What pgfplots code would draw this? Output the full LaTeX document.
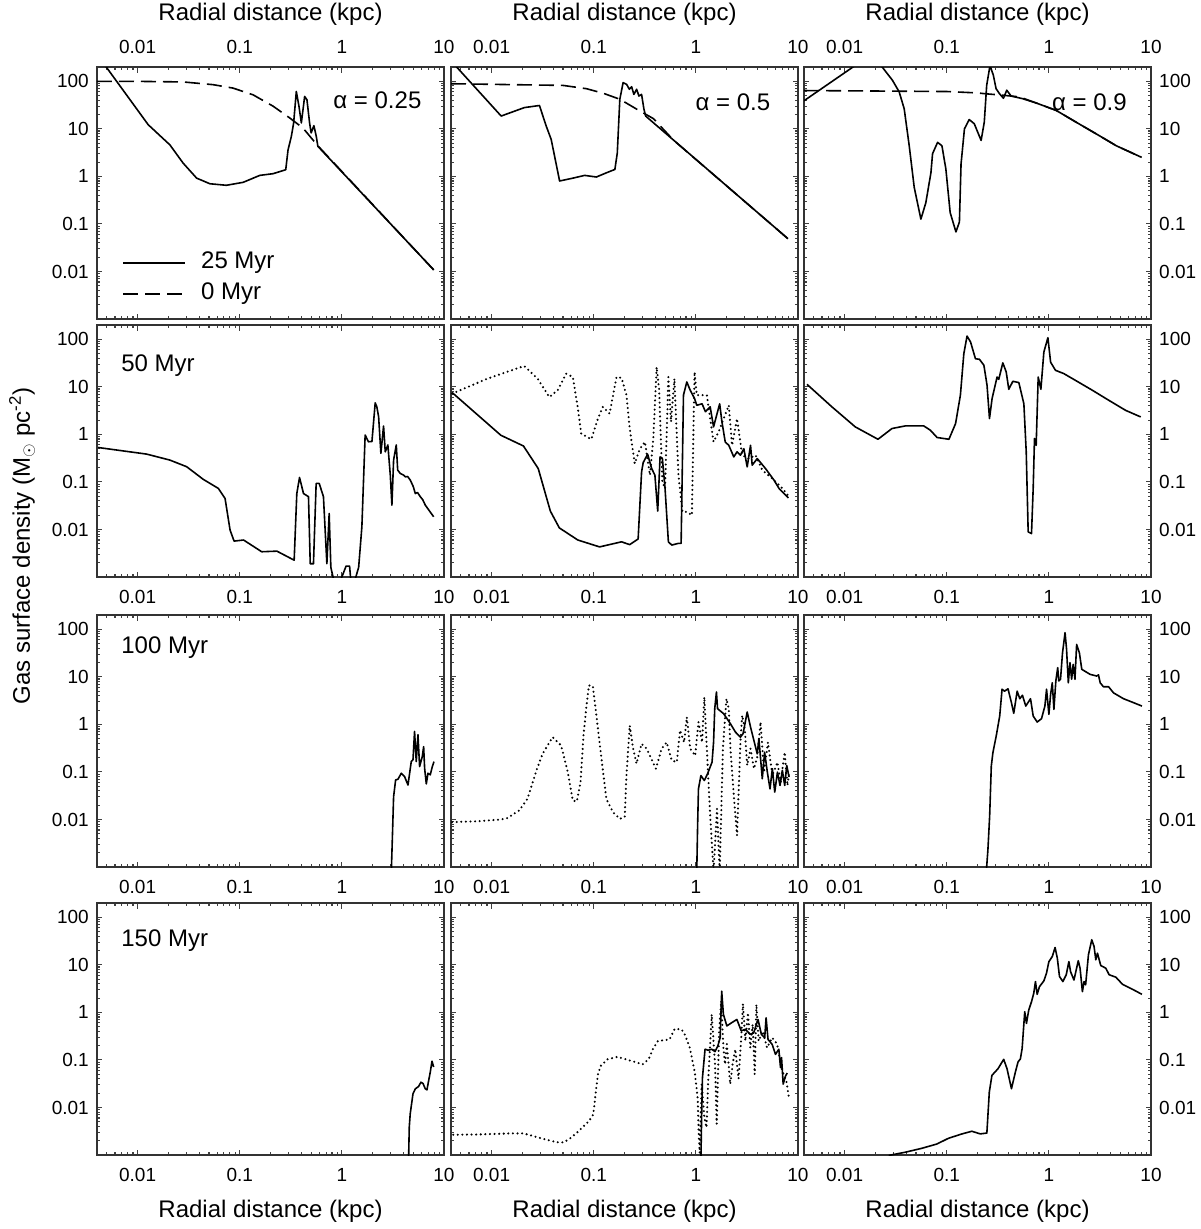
\documentclass[border=0pt]{standalone}
\usepackage{pgfplots}
\pgfplotsset{compat=1.18}
\usepackage{fontspec}
\setmainfont{Liberation Sans}
\newcommand\tfont{\fontsize{19}{19}\selectfont}
\newcommand\lfont{\fontsize{24}{26}\selectfont}
\tikzset{
  sol/.style={black, line width=1.6pt, line join=round},
  dsh/.style={black, line width=1.6pt, dash pattern=on 15pt off 7pt},
  dtt/.style={black, line width=2.3pt, line cap=round, dash pattern=on 0pt off 4.6pt},
}
\pgfplotsset{every axis/.append style={
    scale only axis, width=347pt, height=252pt,
    xmin=0.004, xmax=10, ymin=0.001, ymax=200,
    xtick={0.01,0.1,1,10},
    ytick={0.01,0.1,1,10,100},
    minor xtick={0.005,0.006,0.007,0.008,0.009,0.02,0.03,0.04,0.05,0.06,0.07,0.08,0.09,0.2,0.3,0.4,0.5,0.6,0.7,0.8,0.9,2,3,4,5,6,7,8,9},
    minor ytick={0.002,0.003,0.004,0.005,0.006,0.007,0.008,0.009,0.02,0.03,0.04,0.05,0.06,0.07,0.08,0.09,0.2,0.3,0.4,0.5,0.6,0.7,0.8,0.9,2,3,4,5,6,7,8,9,20,30,40,50,60,70,80,90},
    tick align=inside, xtick pos=both, ytick pos=both,
    major tick length=5.5pt, minor tick length=3pt,
    tick style={draw=black!75, line width=1.1pt},
    axis line style={black!80, line width=1.5pt},
    tick label style={font=\tfont, inner sep=0pt},
    xticklabel shift=13pt, yticklabel shift=8pt,
    anchor=north west,
}}
\begin{document}
\begin{tikzpicture}
\useasboundingbox (0pt,0pt) rectangle (1200pt,-1229pt);
% ---------------- Row 1 ----------------
\begin{loglogaxis}[at={(97pt,-67pt)}, xticklabel pos=right, xticklabels={0.01,0.1,1,10}, yticklabels={0.01,0.1,1,10,100}]
\addplot[sol] coordinates {(0.004,370)(0.0127,12.2)(0.0207,4.6)(0.0279,1.9)(0.0378,0.92)(0.051,0.70)(0.074,0.65)(0.108,0.75)(0.157,1.05)(0.212,1.14)(0.282,1.38)(0.297,3.6)(0.32,6.9)(0.337,13.3)(0.358,61)(0.38,30)(0.401,13.3)(0.432,48)(0.455,41)(0.483,13.3)(0.50,8.2)(0.532,11.7)(0.561,7.0)(0.582,4.3)(7.93,0.0108)};
\addplot[dsh] coordinates {(0.004,100)(0.0091,100)(0.0279,97)(0.0548,85)(0.086,72)(0.135,52)(0.212,30)(0.308,17)(0.416,10.4)(0.582,4.4)(7.93,0.0108)};
\draw[sol] (axis description cs:0.075,0.222) -- (axis description cs:0.254,0.222);
\draw[dsh] (axis description cs:0.075,0.099) -- (axis description cs:0.254,0.099);
\node[font=\lfont, anchor=west] at (axis description cs:0.29,0.222) {25 Myr};
\node[font=\lfont, anchor=west] at (axis description cs:0.29,0.099) {0 Myr};
\node[font=\lfont, anchor=east] at (axis description cs:0.945,0.87) {α = 0.25};
\end{loglogaxis}
\begin{loglogaxis}[at={(451pt,-67pt)}, xticklabel pos=right, xticklabels={0.01,0.1,1,10}, yticklabels={}]
\addplot[sol] coordinates {(0.004,270)(0.0124,18.6)(0.0209,28)(0.0294,31)(0.0342,11.5)(0.0383,6.0)(0.0463,0.80)(0.0627,0.92)(0.0815,1.05)(0.106,0.97)(0.133,1.19)(0.161,1.40)(0.170,3.1)(0.180,42)(0.194,94)(0.210,86)(0.223,68)(0.235,77)(0.247,53)(0.263,68)(0.277,49)(0.294,53)(0.310,26)(0.322,18.6)(7.98,0.0488)};
\addplot[dsh] coordinates {(0.004,89)(0.05,82)(0.0847,70)(0.124,56)(0.180,42)(0.263,26)(0.384,16.4)(0.603,5.8)(7.98,0.0488)};
\node[font=\lfont, anchor=east] at (axis description cs:0.93,0.86) {α = 0.5};
\end{loglogaxis}
\begin{loglogaxis}[at={(804pt,-67pt)}, xticklabel pos=right, yticklabel pos=right, xticklabels={0.01,0.1,1,10}, yticklabels={0.01,0.1,1,10,100}]
\addplot[sol] coordinates {(0.004,39)(0.0128,218)(0.0168,330)(0.0226,218)(0.0294,105)(0.0342,60)(0.0383,26.5)(0.0429,4.4)(0.048,0.59)(0.0558,0.126)(0.0624,0.28)(0.070,1.2)(0.0726,3.0)(0.0813,5.2)(0.0897,4.4)(0.098,1.43)(0.108,0.173)(0.123,0.068)(0.133,0.110)(0.138,1.82)(0.149,10)(0.166,15.7)(0.186,12.8)(0.217,5.7)(0.233,13.8)(0.246,82)(0.265,215)(0.286,134)(0.304,70)(0.328,55)(0.359,44)(0.387,65)(0.427,49)(0.556,43)(0.751,35)(1.18,24.4)(1.85,13.8)(2.92,7.8)(4.58,4.4)(8.07,2.52)};
\addplot[dsh] coordinates {(0.004,64)(0.1,61)(0.2,57)(0.233,55)(0.353,51)(0.515,47)(0.751,35)(1.18,24.4)(1.85,13.8)(2.92,7.8)(4.58,4.4)(8.07,2.52)};
\node[font=\lfont, anchor=east] at (axis description cs:0.94,0.86) {α = 0.9};
\end{loglogaxis}
% ---------------- Row 2 ----------------
\begin{loglogaxis}[at={(97pt,-325pt)}, xticklabels={0.01,0.1,1,10}, yticklabels={0.01,0.1,1,10,100}]
\addplot[sol] coordinates {(0.0041,0.53)(0.01225,0.385)(0.0207,0.288)(0.0302,0.209)(0.044,0.113)(0.0618,0.073)(0.0718,0.045)(0.0804,0.0097)(0.088,0.0057)(0.109,0.006)(0.164,0.0034)(0.231,0.0035)(0.341,0.00226)(0.362,0.057)(0.385,0.124)(0.421,0.057)(0.471,0.049)(0.49,0.0019)(0.527,0.0019)(0.56,0.093)(0.60,0.093)(0.66,0.049)(0.713,0.0019)(0.751,0.0217)(0.78,0.0016)(0.828,0.0009)(0.98,0.0009)(1.10,0.0017)(1.19,0.0017)(1.22,0.0009)(1.35,0.0009)(1.46,0.0016)(1.57,0.0114)(1.69,0.97)(1.82,0.70)(1.97,0.71)(2.12,4.6)(2.2,3.8)(2.29,2.35)(2.41,0.40)(2.56,1.5)(2.66,0.43)(2.82,0.6)(2.98,0.139)(3.09,0.0325)(3.21,0.288)(3.41,0.6)(3.52,0.178)(3.73,0.151)(4.0,0.14)(4.18,0.128)(4.4,0.13)(4.68,0.109)(5.0,0.08)(5.24,0.057)(5.5,0.06)(5.86,0.049)(6.2,0.042)(6.56,0.0325)(7.92,0.0185)};
\node[font=\lfont, anchor=west] at (axis description cs:0.06,0.84) {50 Myr};
\end{loglogaxis}
\begin{loglogaxis}[at={(451pt,-325pt)}, xticklabels={0.01,0.1,1,10}, yticklabels={}]
\addplot[dtt] coordinates {(0.0041,7.2)(0.0091,14.9)(0.0208,27.5)(0.0282,14.9)(0.0367,6.1)(0.0444,8.5)(0.0536,19)(0.0624,16.1)(0.070,3.5)(0.0753,1.04)(0.0945,0.79)(0.11,2.15)(0.123,3.8)(0.143,2.74)(0.167,16.1)(0.187,15.4)(0.209,6.7)(0.225,1.33)(0.252,0.244)(0.283,0.50)(0.317,0.695)(0.355,0.139)(0.383,0.82)(0.413,26)(0.436,9.2)(0.47,0.100)(0.499,0.073)(0.538,16.1)(0.571,1.83)(0.616,14.9)(0.675,0.139)(0.739,0.0235)(0.815,0.0235)(0.914,0.020)(0.97,20.6)(1.02,6.7)(1.28,6.7)(1.38,2.15)(1.49,0.695)(1.67,1.13)(2.1,4.1)(2.26,0.59)(2.53,2.15)(2.84,0.365)(3.3,0.31)(3.84,0.365)(4.47,0.177)(5.6,0.118)(7.04,0.073)(8.18,0.0487)};
\addplot[sol] coordinates {(0.0041,7.6)(0.0123,0.96)(0.0205,0.57)(0.0286,0.191)(0.0376,0.0243)(0.046,0.0108)(0.0698,0.006)(0.114,0.0043)(0.187,0.0055)(0.225,0.0048)(0.272,0.0063)(0.294,0.163)(0.305,0.256)(0.337,0.383)(0.369,0.191)(0.397,0.139)(0.423,0.0243)(0.446,0.336)(0.47,0.31)(0.499,0.073)(0.538,0.0055)(0.58,0.0047)(0.675,0.0051)(0.717,0.0051)(0.756,6.7)(0.815,12.7)(0.88,8.5)(0.97,5.7)(1.02,4.1)(1.15,4.4)(1.24,3.0)(1.38,3.8)(1.49,1.44)(1.71,4.4)(1.80,1.83)(1.94,0.69)(2.1,0.59)(2.35,0.336)(2.53,0.43)(2.73,0.365)(2.95,0.50)(3.18,0.207)(3.43,0.59)(3.56,0.225)(3.99,0.31)(4.82,0.19)(5.82,0.109)(6.52,0.073)(8.05,0.046)};
\end{loglogaxis}
\begin{loglogaxis}[at={(804pt,-325pt)}, yticklabel pos=right, xticklabels={0.01,0.1,1,10}, yticklabels={0.01,0.1,1,10,100}]
\addplot[sol] coordinates {(0.00428,11.3)(0.0075,3.8)(0.0127,1.44)(0.0212,0.79)(0.0291,1.33)(0.0394,1.51)(0.0595,1.51)(0.0692,1.22)(0.0804,0.86)(0.105,0.79)(0.122,1.69)(0.136,6.7)(0.147,50)(0.158,117)(0.171,88)(0.191,39)(0.209,38)(0.231,28.5)(0.248,10.8)(0.262,2.15)(0.278,5.7)(0.311,16.1)(0.323,14.4)(0.354,32)(0.382,20.6)(0.405,8.9)(0.444,13.1)(0.508,12.3)(0.569,4.4)(0.6,0.43)(0.627,0.0089)(0.676,0.0082)(0.702,0.073)(0.723,0.82)(0.751,0.59)(0.786,16.1)(0.835,8.9)(0.893,54)(0.978,108)(1.04,33)(1.16,22.3)(1.40,19)(1.82,13.7)(2.66,8.5)(3.87,5.2)(5.65,3.2)(7.93,2.33)};
\end{loglogaxis}
% ---------------- Row 3 ----------------
\begin{loglogaxis}[at={(97pt,-615pt)}, xticklabels={0.01,0.1,1,10}, yticklabels={0.01,0.1,1,10,100}]
\addplot[sol] coordinates {(3.05,0.0008)(3.11,0.0031)(3.21,0.030)(3.36,0.068)(3.54,0.070)(3.82,0.094)(4.11,0.080)(4.44,0.053)(4.78,0.165)(4.97,0.18)(5.15,0.71)(5.35,0.165)(5.56,0.605)(5.77,0.13)(6.13,0.21)(6.32,0.34)(6.46,0.12)(6.71,0.056)(6.97,0.094)(7.34,0.087)(7.69,0.13)(7.98,0.165)};
\node[font=\lfont, anchor=west] at (axis description cs:0.06,0.87) {100 Myr};
\end{loglogaxis}
\begin{loglogaxis}[at={(451pt,-615pt)}, xticklabels={0.01,0.1,1,10}, yticklabels={}]
\addplot[dtt] coordinates {(0.0041,0.0088)(0.0075,0.0092)(0.0123,0.01)(0.0143,0.0107)(0.0186,0.0155)(0.0224,0.027)(0.0271,0.099)(0.0315,0.24)(0.0396,0.54)(0.0479,0.36)(0.0557,0.099)(0.0624,0.025)(0.0683,0.024)(0.0742,0.061)(0.0794,0.59)(0.0843,2.14)(0.0896,6.6)(0.098,6.4)(0.107,1.32)(0.119,0.189)(0.133,0.027)(0.154,0.0143)(0.18,0.0103)(0.201,0.0114)(0.209,0.084)(0.225,0.95)(0.243,0.31)(0.262,0.149)(0.294,0.39)(0.329,0.31)(0.406,0.117)(0.462,0.31)(0.518,0.42)(0.58,0.175)(0.65,0.16)(0.70,0.75)(0.767,0.42)(0.815,1.43)(0.88,0.31)(0.985,0.22)(1.06,1.12)(1.15,0.42)(1.21,3.76)(1.28,0.31)(1.38,0.0121)(1.49,0.0008)(1.61,0.0168)(1.71,0.0008)(1.84,0.31)(1.99,3.47)(2.1,2.14)(2.18,0.31)(2.35,0.032)(2.53,0.0046)(2.73,0.42)(2.84,1.55)(3.01,0.81)(3.18,0.137)(3.43,0.31)(3.70,0.117)(3.99,0.205)(4.30,1.12)(4.64,0.099)(5.08,0.42)(5.61,0.084)(6.29,0.16)(6.77,0.061)(7.41,0.26)(7.89,0.052)(8.18,0.099)};
\addplot[sol] coordinates {(1.02,0.0008)(1.04,0.0075)(1.06,0.044)(1.12,0.084)(1.21,0.066)(1.30,0.091)(1.44,0.161)(1.49,0.42)(1.53,2.14)(1.59,4.8)(1.63,2.14)(1.87,1.68)(2.18,1.03)(2.44,0.69)(2.73,0.54)(2.90,0.64)(3.18,1.82)(3.43,0.88)(3.70,0.46)(3.99,0.24)(4.14,0.50)(4.47,0.072)(4.71,0.26)(5.01,0.099)(5.32,0.044)(5.61,0.117)(5.92,0.0376)(6.29,0.099)(6.67,0.052)(7.03,0.108)(7.41,0.052)(7.76,0.137)(8.18,0.078)};
\end{loglogaxis}
\begin{loglogaxis}[at={(804pt,-615pt)}, yticklabel pos=right, xticklabels={0.01,0.1,1,10}, yticklabels={0.01,0.1,1,10,100}]
\addplot[sol] coordinates {(0.244,0.0008)(0.253,0.00233)(0.263,0.0117)(0.273,0.133)(0.283,0.254)(0.305,0.57)(0.33,1.5)(0.348,5.5)(0.368,5.0)(0.398,5.6)(0.43,2.86)(0.453,1.71)(0.489,5.0)(0.519,3.47)(0.551,4.1)(0.594,2.43)(0.661,3.47)(0.702,1.5)(0.768,1.12)(0.847,1.32)(0.914,2.43)(0.949,5.5)(1.0,1.63)(1.04,4.3)(1.08,7.5)(1.12,2.07)(1.17,8.2)(1.22,15.6)(1.25,8.2)(1.30,8.9)(1.36,32)(1.44,85)(1.49,38)(1.55,7.5)(1.61,19.9)(1.67,8.9)(1.73,18.3)(1.80,8.9)(1.87,48)(1.99,32)(2.1,14.4)(2.53,11.3)(2.94,10.4)(3.06,11)(3.18,7.5)(3.42,6.2)(3.84,6.2)(4.30,4.6)(5.38,3.47)(6.76,2.86)(8.15,2.43)};
\end{loglogaxis}
% ---------------- Row 4 ----------------
\begin{loglogaxis}[at={(97pt,-903pt)}, xticklabels={0.01,0.1,1,10}, yticklabels={0.01,0.1,1,10,100}]
\addplot[sol] coordinates {(4.5,0.0008)(4.57,0.00385)(4.67,0.0074)(4.97,0.0194)(5.24,0.0247)(5.64,0.0277)(5.95,0.034)(6.23,0.032)(6.56,0.0247)(6.81,0.0235)(7.08,0.037)(7.34,0.0555)(7.63,0.094)(7.92,0.071)};
\node[font=\lfont, anchor=west] at (axis description cs:0.06,0.85) {150 Myr};
\end{loglogaxis}
\begin{loglogaxis}[at={(451pt,-903pt)}, xticklabels={0.01,0.1,1,10}, yticklabels={}]
\addplot[dtt] coordinates {(0.0042,0.00267)(0.0071,0.0027)(0.0152,0.00285)(0.0205,0.00285)(0.0248,0.00255)(0.0324,0.00217)(0.0438,0.00185)(0.051,0.00185)(0.0593,0.00228)(0.069,0.003)(0.09,0.0052)(0.099,0.0072)(0.105,0.0224)(0.110,0.050)(0.117,0.075)(0.136,0.103)(0.171,0.116)(0.223,0.098)(0.302,0.081)(0.344,0.103)(0.379,0.168)(0.425,0.25)(0.553,0.27)(0.62,0.45)(0.723,0.44)(0.778,0.345)(0.873,0.18)(0.977,0.054)(1.04,0.0162)(1.07,0.00235)(1.09,0.0011)(1.14,0.031)(1.21,0.0062)(1.27,0.0038)(1.32,0.036)(1.43,0.91)(1.48,0.295)(1.54,0.081)(1.60,0.0045)(1.69,0.41)(1.77,1.73)(1.86,0.18)(1.93,0.081)(2.01,0.215)(2.17,0.031)(2.29,0.081)(2.43,0.168)(2.62,0.04)(2.78,0.295)(2.89,1.52)(3.05,0.25)(3.24,0.98)(3.41,0.18)(3.6,0.56)(3.77,0.050)(3.91,1.47)(4.12,0.25)(4.52,0.40)(4.98,0.18)(5.58,0.295)(6.25,0.215)(7.0,0.059)(7.67,0.037)(8.15,0.0162)};
\addplot[sol] coordinates {(1.12,0.0008)(1.14,0.0072)(1.16,0.0426)(1.23,0.168)(1.32,0.16)(1.43,0.168)(1.54,0.15)(1.64,0.197)(1.73,0.295)(1.79,2.8)(1.86,0.91)(2.01,0.52)(2.25,0.61)(2.52,0.71)(2.78,0.41)(3.05,0.44)(3.41,0.345)(3.68,0.37)(4.06,0.71)(4.38,0.345)(4.72,0.295)(4.87,0.77)(5.09,0.27)(5.58,0.213)(6.02,0.131)(6.49,0.168)(6.74,0.069)(6.90,0.112)(7.16,0.031)(7.55,0.046)(7.85,0.053)};
\end{loglogaxis}
\begin{loglogaxis}[at={(804pt,-903pt)}, yticklabel pos=right, xticklabels={0.01,0.1,1,10}, yticklabels={0.01,0.1,1,10,100}]
\addplot[sol] coordinates {(0.027,0.00098)(0.0389,0.00114)(0.0567,0.00138)(0.0798,0.0017)(0.104,0.00225)(0.141,0.00278)(0.176,0.00316)(0.213,0.00278)(0.247,0.0029)(0.261,0.0211)(0.277,0.0474)(0.318,0.0656)(0.361,0.103)(0.389,0.0656)(0.43,0.0248)(0.47,0.0557)(0.499,0.091)(0.526,0.105)(0.547,0.173)(0.58,1.03)(0.603,0.586)(0.635,1.12)(0.676,1.68)(0.711,2.52)(0.739,4.45)(0.768,2.4)(0.809,3.48)(0.893,4.6)(0.948,6.7)(1.0,11.7)(1.08,15)(1.15,23.2)(1.21,13.8)(1.27,5.7)(1.37,4.45)(1.48,6.2)(1.57,11.7)(1.63,7.2)(1.76,4.8)(1.94,12.2)(2.02,8.5)(2.13,2.73)(2.21,4.45)(2.29,3.8)(2.44,16.3)(2.63,33.7)(2.77,24.4)(2.88,12.8)(2.99,17.6)(3.22,9.7)(3.61,8.5)(3.89,6.2)(4.53,5.5)(5.26,3.9)(6.6,3.06)(8.15,2.4)};
\end{loglogaxis}
% ---------------- labels ----------------
\node[font=\lfont] at (270.5pt,-14pt) {Radial distance (kpc)};
\node[font=\lfont] at (624.5pt,-14pt) {Radial distance (kpc)};
\node[font=\lfont] at (977.5pt,-14pt) {Radial distance (kpc)};
\node[font=\lfont] at (270.5pt,-1211pt) {Radial distance (kpc)};
\node[font=\lfont] at (624.5pt,-1211pt) {Radial distance (kpc)};
\node[font=\lfont] at (977.5pt,-1211pt) {Radial distance (kpc)};
\node[font=\lfont, rotate=90] at (22pt,-546pt) {Gas surface density (M$_\odot$ pc\textsuperscript{-2})};
\end{tikzpicture}
\end{document}
